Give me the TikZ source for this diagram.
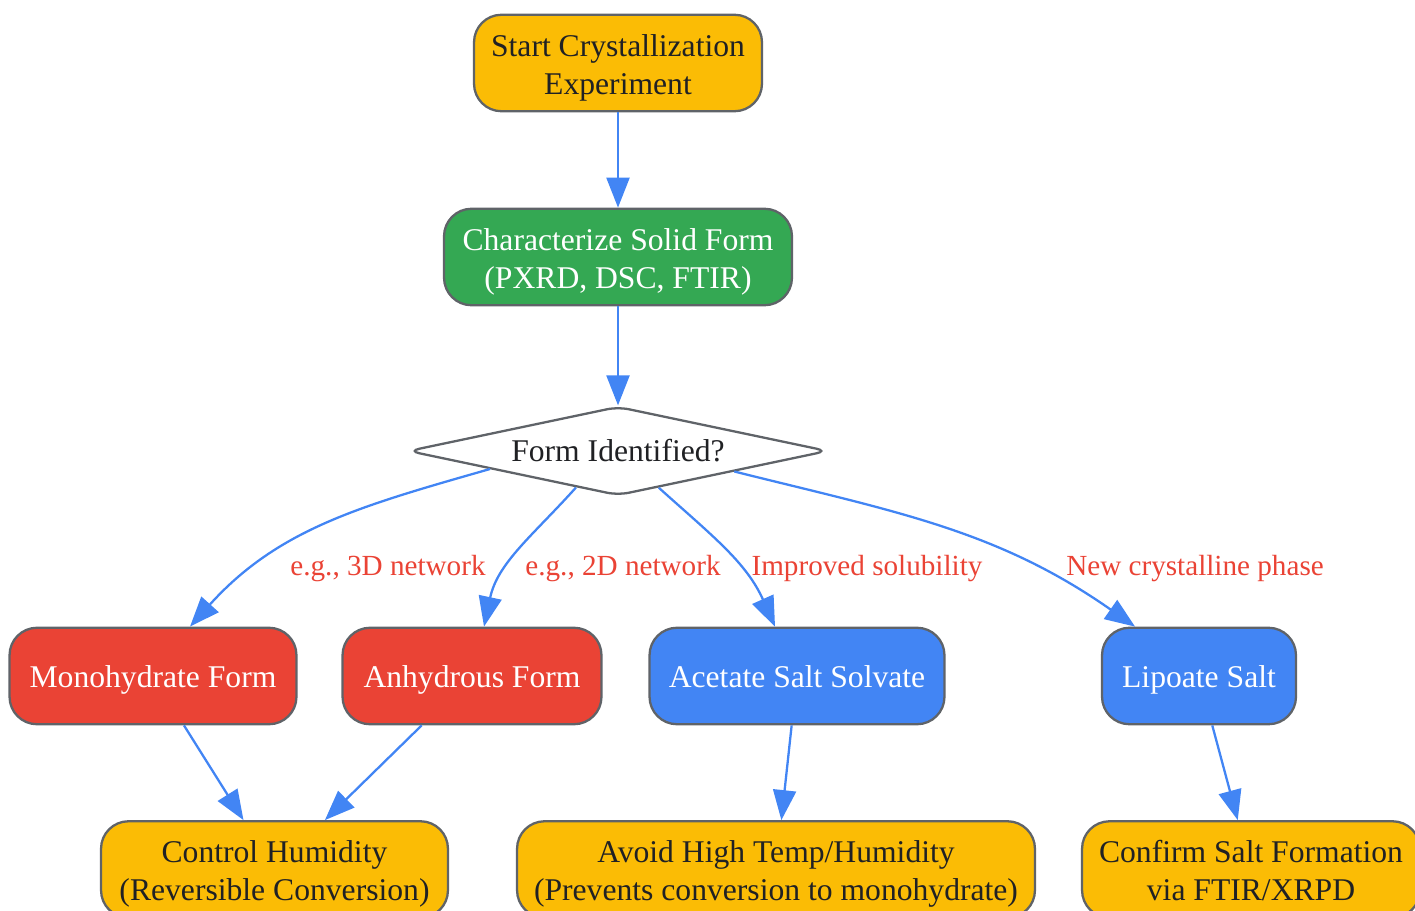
\documentclass[tikz,border=0pt]{standalone}
\usepackage{fontspec}
\setmainfont{Liberation Serif}
\usetikzlibrary{shapes.geometric,arrows.meta}
\definecolor{gyellow}{HTML}{FBBC05}
\definecolor{ggreen}{HTML}{34A853}
\definecolor{gred}{HTML}{EA4335}
\definecolor{gblue}{HTML}{4285F4}
\definecolor{gborder}{HTML}{5F6368}
\definecolor{gtext}{HTML}{202124}

\begin{document}
\begin{tikzpicture}[x=0.02cm, y=0.02cm,
			box/.style={rectangle, rounded corners=0.55cm, draw=gborder, line width=1.3pt, minimum height=1.93cm, inner sep=2pt, align=center, text height=13pt, text depth=0pt, font=\fontsize{18}{21.6}\selectfont},
			two/.style={text height=35.6pt, text depth=0pt},
			todo/.style={box, two, fill=gyellow, text=gtext},
			char/.style={box, two, fill=ggreen, text=white},
			hyd/.style={box, fill=gred, text=white},
			salt/.style={box, fill=gblue, text=white},
			ask/.style={diamond, shape aspect=4.7, draw=gborder, line width=1.3pt, fill=white, text=gtext, rounded corners=0.22cm, inner sep=0pt, minimum width=8.4cm, minimum height=1.78cm, text height=12pt, text depth=0pt, font=\fontsize{18}{21.6}\selectfont},
			flow/.style={draw=gblue, line width=1.3pt, -{Triangle[length=0.6cm, width=0.46cm]}},
			lbl/.style={text=gred, inner sep=1pt, text height=11.5pt, text depth=0pt, font=\fontsize{16.6}{20}\selectfont}
				]
			\useasboundingbox (0,0) rectangle (1415,-911);

			\node[todo, minimum width=5.76cm] at (618,-63) (start) {Start Crystallization\\Experiment};
			\node[char, minimum width=6.96cm] at (618,-257) (chr) {Characterize Solid Form\\(PXRD, DSC, FTIR)};
			\node[ask] at (618,-451) (form) {Form Identified?};

			\node[hyd, minimum width=5.74cm] at (153,-676) (mono) {Monohydrate Form};
			\node[hyd, minimum width=5.18cm] at (472,-676) (anhy) {Anhydrous Form};
			\node[salt, minimum width=5.9cm] at (797,-676) (acet) {Acetate Salt Solvate};
			\node[salt, minimum width=3.88cm] at (1199,-676) (lipo) {Lipoate Salt};

			\node[todo, minimum width=6.94cm] at (274.5,-869.5) (humid) {Control Humidity\\(Reversible Conversion)};
			\node[todo, minimum width=10.36cm] at (776,-869.5) (avoid) {Avoid High Temp/Humidity\\(Prevents conversion to monohydrate)};
			\node[todo, minimum width=6.76cm] at (1251,-869.5) (confirm) {Confirm Salt Formation\\via FTIR/XRPD};

			\draw[flow] (start) -- (chr);
			\draw[flow] (chr) -- (form);

			%branches
			\draw[flow] (form.188) to[out=196, in=48] ([xshift=0.74cm]mono.north);
			\draw[flow] (form.221) to[out=228, in=78] ([xshift=0.24cm]anhy.north);
			\draw[flow] (form.318) to[out=-42, in=114] ([xshift=-0.44cm]acet.north);
			\draw[flow] (form.350) to[out=-14, in=145] ([xshift=-1.28cm]lipo.north);

			\node[lbl] at (388,-565) (l3d) {e.g., 3D network};
			\node[lbl] at (623,-565) (l2d) {e.g., 2D network};
			\node[lbl] at (867,-565) (lsol) {Improved solubility};
			\node[lbl] at (1195,-565) (lnew) {New crystalline phase};

			%outcomes
			\draw[flow] (mono) -- (humid);
			\draw[flow] (anhy) -- (humid);
			\draw[flow] (acet) -- (avoid);
			\draw[flow] (lipo) -- (confirm);
	\end{tikzpicture}
\end{document}
